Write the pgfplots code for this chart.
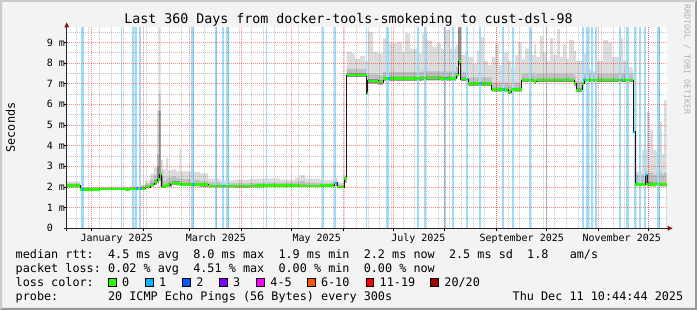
\documentclass[border=0pt]{standalone}
\usepackage{pgfplots}
\usepackage{pgfplotstable}
\pgfplotsset{compat=1.18}
\usetikzlibrary{arrows.meta}
\usepackage{fontspec}
\newfontfamily\dvm{DejaVu Sans Mono}
\newcommand\legfont{\dvm\fontsize{11.8bp}{14bp}\selectfont}
\newcommand\titlefont{\dvm\fontsize{13.3bp}{16bp}\selectfont}
\newcommand\tickfont{\dvm\fontsize{10bp}{12bp}\selectfont}
\newcommand\wmfont{\dvm\fontsize{8.3bp}{10bp}\selectfont}
\definecolor{backc}{RGB}{243,243,243}
\definecolor{shadeA}{RGB}{203,203,203}
\definecolor{shadeB}{RGB}{153,153,153}
\definecolor{lossbg}{RGB}{160,220,247}
\definecolor{lossA}{RGB}{38,255,0}
\definecolor{lossB}{RGB}{0,184,255}
\definecolor{lossC}{RGB}{0,89,255}
\definecolor{lossD}{RGB}{126,0,255}
\definecolor{lossE}{RGB}{255,0,255}
\definecolor{lossF}{RGB}{255,85,0}
\definecolor{lossG}{RGB}{255,0,0}
\definecolor{lossH}{RGB}{161,0,0}
\definecolor{arrowred}{RGB}{140,20,20}
\definecolor{smokeL}{RGB}{220,220,220}
\definecolor{smokeM}{RGB}{192,192,192}
\definecolor{smokeD}{RGB}{140,140,140}

% smoke: day, lower bound, dark band top, medium band top, upper envelope (ms)
\pgfplotstableread{
d lo dk mid hi
0 1.98 2.12 2.18 2.27
8.0 1.83 1.92 1.95 1.99
20.0 1.85 1.94 1.97 2.02
35.0 1.84 1.92 1.96 2.01
38.0 1.86 1.95 1.99 2.05
44.0 1.88 1.98 2.05 2.12
47.0 1.93 2.06 2.15 2.30
50.0 2.02 2.18 2.35 2.65
52.4 2.12 2.35 2.60 2.95
54.2 2.20 3.00 3.60 5.70
55.4 2.30 5.70 6.50 9.73
56.4 2.00 2.50 2.80 3.30
57.8 1.98 2.10 2.30 2.85
59.6 2.00 2.15 2.40 3.40
60.8 2.02 2.20 2.45 2.80
63.2 2.10 2.30 2.50 2.85
65.6 2.08 2.28 2.45 2.75
67.7 2.05 2.20 2.40 3.84
68.6 2.04 2.20 2.38 2.75
74.0 2.03 2.18 2.35 2.72
80.0 2.01 2.15 2.30 2.66
84.8 1.98 2.10 2.22 2.40
92.0 1.98 2.08 2.17 2.32
101.0 1.97 2.08 2.18 2.36
110.0 1.98 2.10 2.20 2.40
119.0 1.99 2.10 2.22 2.42
128.0 2.00 2.12 2.22 2.36
137.0 2.00 2.12 2.25 2.45
140.0 2.00 2.12 2.30 2.58
143.0 1.99 2.10 2.20 2.40
152.0 1.99 2.10 2.18 2.33
158.0 2.00 2.12 2.20 2.35
160.4 2.05 2.25 2.35 2.45
162.2 1.94 2.05 2.12 2.22
166.4 2.20 2.45 2.50 2.55
168.0 7.32 7.50 7.72 8.54
171.2 7.32 7.50 7.72 8.47
173.0 7.32 7.50 7.70 8.20
176.0 7.32 7.50 7.70 8.35
179.0 7.32 7.50 7.70 8.10
179.9 6.45 6.65 7.00 8.10
180.5 7.00 7.22 7.45 8.10
180.8 7.00 7.22 7.45 9.51
183.8 7.00 7.22 7.45 8.54
186.8 6.95 7.16 7.40 8.47
189.8 7.14 7.34 7.56 9.19
192.8 7.14 7.34 7.56 8.95
198.2 7.14 7.34 7.56 9.03
201.2 7.14 7.34 7.56 8.54
203.0 7.14 7.34 7.56 9.43
206.0 7.14 7.34 7.56 8.70
210.2 7.14 7.34 7.56 8.47
213.2 7.16 7.36 7.60 9.43
216.2 7.16 7.36 7.60 9.10
219.2 7.16 7.36 7.60 8.80
222.2 7.16 7.36 7.60 8.95
224.6 7.15 7.34 7.58 8.70
227.0 7.15 7.34 7.58 9.60
230.0 7.15 7.34 7.58 8.70
233.0 7.15 7.34 7.58 8.80
233.6 7.30 7.50 7.80 8.90
234.8 7.90 9.73 9.73 9.73
236.6 7.12 7.30 7.55 8.38
239.0 7.12 7.30 7.55 8.50
241.0 6.90 7.08 7.30 8.30
243.8 6.90 7.08 7.30 7.95
246.2 6.90 7.08 7.30 8.60
248.6 6.90 7.08 7.30 9.27
250.4 6.90 7.08 7.30 8.10
252.8 6.90 7.08 7.30 7.90
255.0 6.62 6.80 7.05 8.30
257.0 6.62 6.80 7.05 8.90
259.4 6.62 6.80 7.05 7.90
261.8 6.62 6.80 7.05 8.50
264.8 6.50 6.68 6.95 8.10
266.6 6.62 6.80 7.05 7.80
269.0 6.62 6.80 7.05 8.40
270.8 6.62 6.80 7.05 9.00
273.0 7.07 7.25 7.47 8.20
275.0 7.07 7.25 7.47 8.70
277.4 7.07 7.25 7.47 9.60
279.2 7.07 7.25 7.47 8.40
280.4 7.00 7.18 7.40 8.90
281.6 7.07 7.25 7.47 8.30
284.0 7.07 7.25 7.47 9.30
285.8 7.07 7.25 7.47 8.50
288.2 7.07 7.25 7.47 8.10
290.0 7.07 7.25 7.47 9.20
291.8 7.07 7.25 7.47 8.40
294.2 7.07 7.25 7.47 9.65
296.0 7.07 7.25 7.47 8.30
297.8 7.07 7.25 7.47 8.90
299.6 7.07 7.25 7.47 8.20
301.4 7.07 7.25 7.47 9.11
304.4 6.90 7.08 7.35 8.60
305.6 6.60 6.78 7.10 8.10
309.2 6.90 7.08 7.35 8.47
310.4 7.07 7.25 7.47 8.47
311.6 7.07 7.25 7.47 7.70
314.0 7.07 7.25 7.47 7.60
318.2 7.07 7.25 7.47 8.10
321.8 7.07 7.25 7.47 9.11
324.8 7.07 7.25 7.47 9.00
327.2 7.07 7.25 7.47 8.30
332.0 7.07 7.25 7.47 9.19
333.8 7.07 7.25 7.47 8.10
336.8 7.07 7.25 7.47 7.80
339.2 7.07 7.25 7.47 7.70
340.0 4.60 4.75 4.85 4.90
341.0 2.05 2.20 2.60 2.74
345.2 2.05 2.20 2.60 3.79
347.0 2.10 2.60 2.80 3.80
348.2 2.03 2.25 2.70 5.64
350.0 2.03 2.25 2.70 4.76
351.8 2.03 2.20 2.60 3.80
353.6 2.06 2.25 2.65 3.70
354.8 2.03 2.20 2.70 5.16
357.2 2.03 2.20 2.60 3.60
358.4 2.03 2.20 2.70 6.20
360.0 2.03 2.20 2.70 6.20
}\smoke

% median rtt (ms)
\pgfplotstableread{
d med
0 2.07
8.0 1.88
20.0 1.90
35.0 1.88
38.0 1.91
44.0 1.93
47.0 2.00
50.0 2.10
52.4 2.25
54.5 2.35
55.7 2.63
56.9 2.02
59.6 2.06
62.0 2.20
65.6 2.18
68.0 2.12
84.8 2.05
98.0 2.04
113.0 2.06
125.0 2.07
140.0 2.05
152.0 2.06
158.0 2.08
160.4 2.20
162.2 2.00
166.4 2.42
168.0 7.42
179.9 6.55
180.5 7.14
186.8 7.08
189.8 7.24
212.0 7.27
224.0 7.25
233.6 7.42
235.1 8.06
236.3 7.22
241.0 7.00
255.0 6.72
264.8 6.60
266.6 6.72
273.0 7.17
280.4 7.10
281.6 7.17
304.4 7.00
305.6 6.70
309.2 7.00
310.4 7.17
340.0 4.67
341.0 2.13
347.0 2.58
348.2 2.12
353.6 2.15
357.2 2.12
360.0 2.12
}\med

\begin{document}
\begin{tikzpicture}
\useasboundingbox (0,0) rectangle (697bp,310bp);
\fill[backc] (0,0) rectangle (697bp,310bp);
\fill[shadeA] (0,310bp) -- (697bp,310bp) -- (695bp,308bp) -- (2bp,308bp) -- (2bp,2bp) -- (0,0) -- cycle;
\fill[shadeB] (0,0) -- (697bp,0) -- (697bp,310bp) -- (695bp,308bp) -- (695bp,2bp) -- (2bp,2bp) -- cycle;

\begin{axis}[
  at={(66.7bp,81.7bp)}, anchor=south west,
  scale only axis, width=600bp, height=201bp,
  xmin=0, xmax=360, ymin=0, ymax=9.73,
  axis lines*=left,
  axis line style={black!85, line width=0.8bp},
  x axis line style={-{Triangle[length=5bp,width=4.5bp,color=arrowred]}, shorten >=-6bp, shorten <=-3bp},
  y axis line style={-{Triangle[length=5bp,width=4.5bp,color=arrowred]}, shorten >=-5bp, shorten <=-2.5bp},
  axis background/.style={fill=white},
  axis on top,
  xtick={14.75,45.75,73.75,104.75,134.75,165.75,195.75,226.75,257.75,287.75,318.75,348.75},
  xticklabels={},
  extra x ticks={30,89.5,150,211,273,333},
  extra x tick labels={January 2025,March 2025,May 2025,July 2025,September 2025,November 2025},
  extra x tick style={grid=none, major tick length=0pt},
  minor xtick={5.75,12.75,...,360},
  ytick={0,1,2,3,4,5,6,7,8,9},
  yticklabels={0\hphantom{~m},1~m,2~m,3~m,4~m,5~m,6~m,7~m,8~m,9~m},
  minor ytick={0.5,1.5,2.5,3.5,4.5,5.5,6.5,7.5,8.5,9.5},
  grid=both,
  major grid style={draw=red, opacity=0.45, dash pattern=on 1bp off 1bp, line width=0.8bp},
  minor grid style={draw=black, opacity=0.22, dash pattern=on 1bp off 1bp, line width=0.8bp},
  tick align=outside, major tick length=3bp, minor tick length=0pt,
  tick style={black, line width=0.8bp},
  xticklabel style={font=\tickfont, inner sep=0pt, anchor=north, yshift=-5.5bp},
  yticklabel style={font=\tickfont, inner sep=0pt, anchor=east, xshift=1.5bp},
  unbounded coords=jump,
]
\addplot[fill=smokeL, draw=none, const plot mark left] table[x=d,y=hi]{\smoke} \closedcycle;
\addplot[fill=smokeM, draw=none, const plot mark left] table[x=d,y=mid]{\smoke} \closedcycle;
\addplot[fill=smokeD, draw=none, const plot mark left] table[x=d,y=dk]{\smoke} \closedcycle;
\addplot[fill=white, draw=none, const plot mark left] table[x=d,y=lo]{\smoke} \closedcycle;
% loss background bars (1 of 20 lost)
\addplot[ycomb, draw=lossbg, line width=2.3bp] coordinates {
(39.6,9.73) (41.7,9.73) (44.0,9.73) (75.4,9.73) (93.6,9.73) (96.5,9.73)
(153.6,9.73) (160.9,9.73) (192.5,9.73) (210.8,9.73) (215.0,9.73) (227.0,9.73)
(231.8,9.73) (240.0,9.73) (248.0,9.73) (261.6,9.73) (267.6,9.73) (278.0,9.73)
(309.6,9.73) (312.4,9.73) (315.0,9.73) (317.6,9.73) (332.0,9.73) (336.5,9.73)
(341.0,9.73) (344.0,9.73) (347.0,9.73) (355.0,9.73)};
\addplot[ycomb, draw=lossbg, line width=1.5bp] coordinates {
(33.0,9.73) (89.7,9.73) (119.9,9.73) (180.0,9.73) (288.0,9.73)};
\addplot[ycomb, draw=lossbg, line width=2.9bp] coordinates {(9.4,9.73)};
% median
\addplot[black!90, line width=0.9bp, const plot mark left] table[x=d,y=med]{\med};
\addplot[lossA, line width=2.6bp, jump mark left] table[x=d,y=med]{\med};
\addplot[lossB, line width=2.6bp, jump mark left] coordinates {
(9.4,1.88) (10.6,1.88) (10.7,nan) (41.7,1.93) (42.9,1.93) (43.0,nan)
(44.0,1.93) (45.2,1.93) (45.3,nan) (75.4,2.12) (76.6,2.12) (76.7,nan)
(93.6,2.05) (94.8,2.05) (94.9,nan) (160.9,2.20) (162.1,2.20) (162.15,nan)
(192.5,7.24) (193.7,7.24) (193.8,nan) (227.0,7.27) (228.2,7.27) (228.3,nan)
(240.0,7.22) (240.9,7.22) (241.0,nan) (248.0,7.00) (249.2,7.00) (249.3,nan)
(261.6,6.72) (262.8,6.72) (262.9,nan) (309.6,7.17) (310.8,7.17) (310.9,nan)
(332.0,7.17) (333.2,7.17) (333.3,nan) (340.0,4.67) (341.0,4.67) (341.1,nan)
(347.0,2.58) (348.2,2.58) (348.3,nan)};
\end{axis}

\node[anchor=base, font=\titlefont, inner sep=0pt] at (348.5bp,286.7bp) {Last 360 Days from docker-tools-smokeping to cust-dsl-98};
\node[rotate=90, font=\legfont, inner sep=0pt] at (10.5bp,182.5bp) {Seconds};
\node[rotate=-90, anchor=west, font=\wmfont, text=black!30, inner sep=0pt] at (687bp,305.5bp) {RRDTOOL / TOBI OETIKER};

\node[anchor=base west, font=\legfont, inner sep=0pt] at (15.5bp,51.3bp) {median~rtt:~~4.5~ms~avg~~8.0~ms~max~~1.9~ms~min~~2.2~ms~now~~2.5~ms~sd~~1.8~~~am/s};
\node[anchor=base west, font=\legfont, inner sep=0pt] at (15.5bp,37.3bp) {packet~loss:~0.02~\%~avg~~4.51~\%~max~~0.00~\%~min~~0.00~\%~now};
\node[anchor=base west, font=\legfont, inner sep=0pt] at (15.5bp,23.3bp) {loss~color:};
\node[anchor=base west, font=\legfont, inner sep=0pt] at (15.5bp,9.3bp) {probe:~~~~~~~20~ICMP~Echo~Pings~(56~Bytes)~every~300s};
\node[anchor=base west, font=\legfont, inner sep=0pt] at (512.5bp,9.3bp) {Thu~Dec~11~10:44:44~2025};

\foreach \bx/\col/\lab in {108.3/lossA/0, 145.5/lossB/1, 182.7/lossC/2, 219.5/lossD/3, 256.7/lossE/4-5, 307.3/lossF/6-10, 366/lossG/11-19, 430.7/lossH/20\slash 20}{
  \filldraw[fill=\col, draw=black, line width=0.8bp] (\bx bp,23.4bp) rectangle ++(7.6bp,8.6bp);
  \node[anchor=base west, font=\legfont, inner sep=0pt] at (\bx bp+13.5bp,23.3bp) {\lab};
}
\end{tikzpicture}
\end{document}
